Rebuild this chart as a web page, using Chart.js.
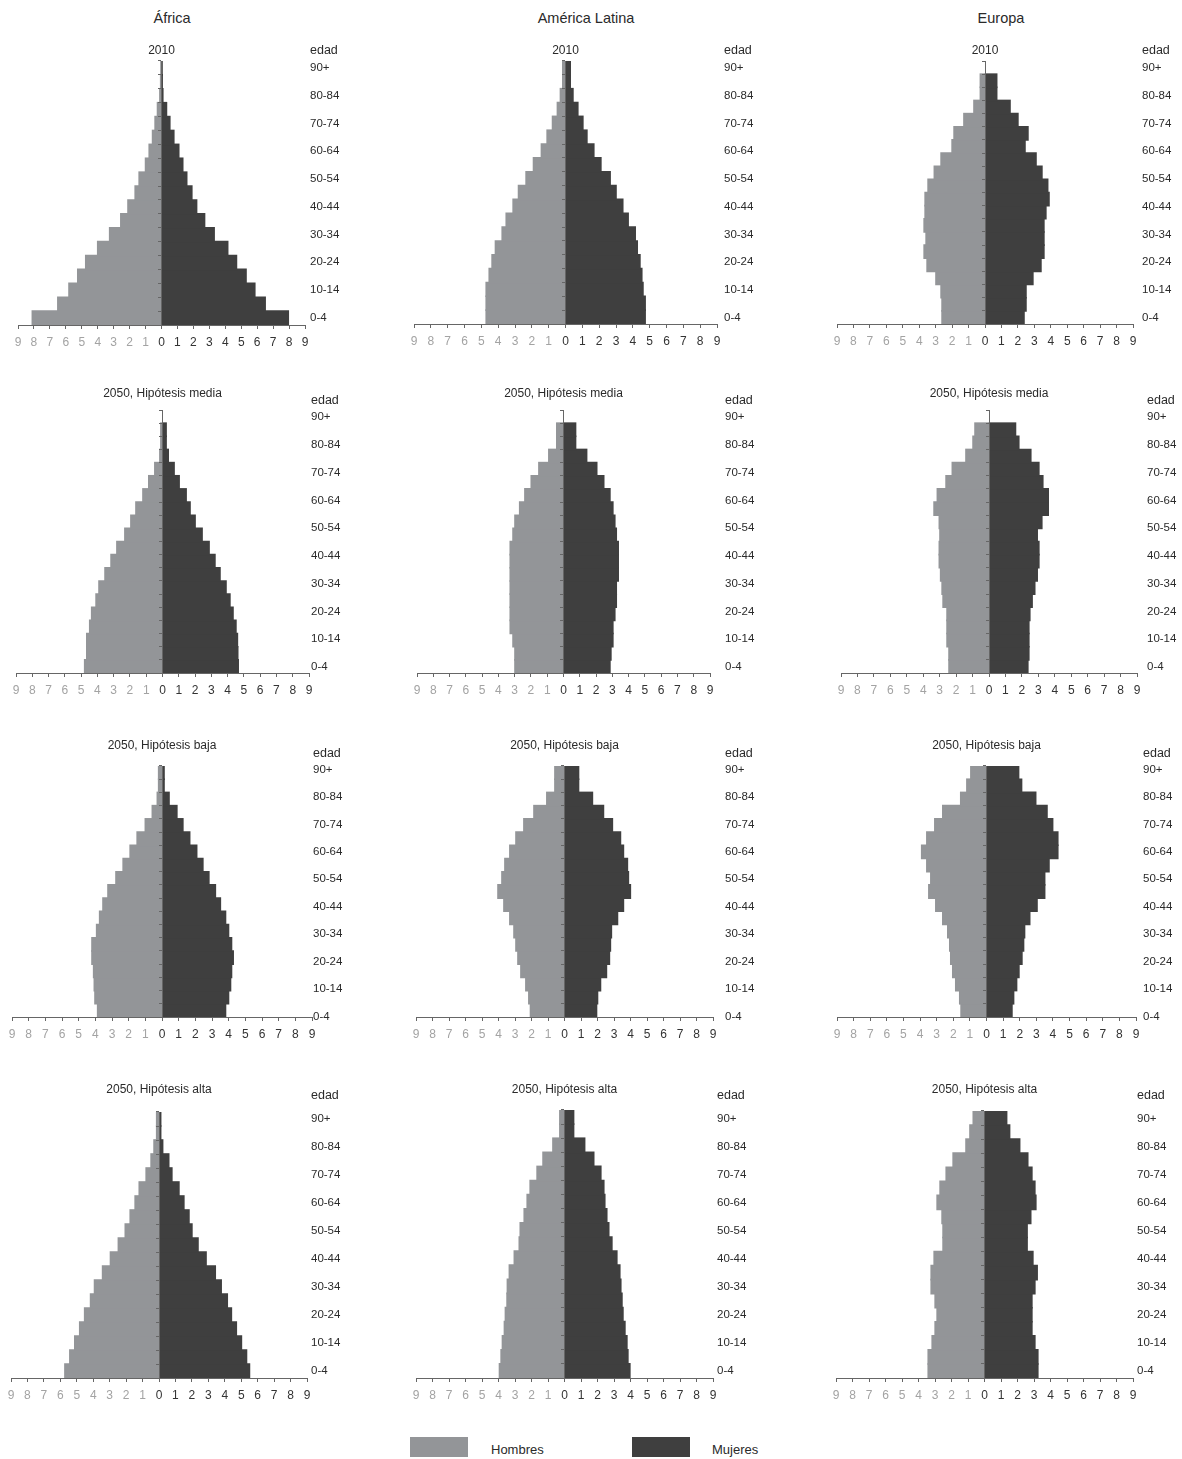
<!DOCTYPE html>
<html><head><meta charset="utf-8">
<script src="https://cdn.jsdelivr.net/npm/chart.js@4.4.1/dist/chart.umd.min.js"></script>
<style>
html,body{margin:0;padding:0;background:#fff;}
body{width:1182px;height:1459px;position:relative;overflow:hidden;font-family:'Liberation Sans',Arial,sans-serif;color:#2a2a2a;}
canvas{position:absolute;}
.t{position:absolute;white-space:nowrap;line-height:1;}
.c{transform:translate(-50%,-50%);}
.l{transform:translate(0,-50%);}
.head{font-size:14.5px;color:#2a2a2a;}
.sub{font-size:12px;color:#2a2a2a;}
.edad{font-size:12.5px;color:#2a2a2a;}
.leg{position:absolute;width:58px;height:20px;}
.legt{font-size:13px;color:#2a2a2a;}
</style>
</head><body>
<script>
// ---------- DATA ----------
const AGE_GROUPS = ['0-4','5-9','10-14','15-19','20-24','25-29','30-34','35-39','40-44','45-49','50-54','55-59','60-64','65-69','70-74','75-79','80-84','85-89','90+'];
const AGE_TICK_LABELS = ['0-4','10-14','20-24','30-34','40-44','50-54','60-64','70-74','80-84','90+'];
const X_TICK_VALUES = [-9,-8,-7,-6,-5,-4,-3,-2,-1,0,1,2,3,4,5,6,7,8,9];
const REGIONS = ['África','América Latina','Europa'];
const SCENARIOS = ['2010','2050, Hipótesis media','2050, Hipótesis baja','2050, Hipótesis alta'];
const SERIES_NAMES = ['Hombres','Mujeres'];

// percentages of population, age groups from 0-4 to 90+
const AFR_2010_H = [8.1,6.5,5.8,5.25,4.75,4.0,3.25,2.55,2.1,1.65,1.4,1.0,0.77,0.56,0.4,0.25,0.1,0.05,0.02];
const AFR_2010_M = [7.95,6.5,5.85,5.3,4.7,4.15,3.3,2.7,2.2,1.9,1.58,1.33,1.08,0.77,0.52,0.31,0.08,0.04,0.02];
const LAT_2010_H = [4.71,4.71,4.71,4.53,4.36,4.16,3.76,3.52,3.11,2.79,2.34,1.9,1.43,1.09,0.77,0.48,0.3,0.16,0.16];
const LAT_2010_M = [4.73,4.73,4.6,4.53,4.42,4.26,4.14,3.72,3.4,3.0,2.65,2.1,1.68,1.27,1.03,0.73,0.44,0.28,0.28];
const EUR_2010_H = [2.61,2.61,2.67,2.98,3.52,3.7,3.58,3.7,3.64,3.64,3.46,3.08,2.67,2.0,1.88,1.28,0.67,0.28,0.28];
const EUR_2010_M = [2.37,2.49,2.49,2.91,3.4,3.58,3.58,3.58,3.7,3.89,3.81,3.46,3.1,2.43,2.61,2.0,1.52,0.71,0.71];

const AFR_MED_H = [4.78,4.65,4.65,4.47,4.35,4.08,3.9,3.53,3.16,2.8,2.31,1.94,1.63,1.2,0.84,0.47,0.16,0.1,0.1];
const AFR_MED_M = [4.65,4.62,4.6,4.51,4.33,4.14,3.9,3.53,3.22,2.86,2.43,2.0,1.69,1.45,1.02,0.71,0.35,0.22,0.22];
const LAT_MED_H = [2.98,2.98,3.1,3.27,3.27,3.27,3.27,3.27,3.27,3.27,3.1,2.98,2.69,2.37,1.98,1.51,0.9,0.41,0.41];
const LAT_MED_M = [2.85,2.91,3.03,3.03,3.15,3.24,3.24,3.36,3.36,3.36,3.24,3.15,3.03,2.85,2.47,2.04,1.42,0.74,0.74];
const EUR_MED_H = [2.43,2.43,2.55,2.55,2.55,2.79,2.85,2.94,3.02,3.02,2.98,3.02,3.34,3.14,2.61,2.23,1.4,0.97,0.85];
const EUR_MED_M = [2.36,2.42,2.42,2.42,2.48,2.62,2.78,2.93,3.03,3.03,2.93,3.21,3.6,3.6,3.27,3.03,2.54,1.81,1.61];

const AFR_BAJ_H = [3.86,4.02,4.06,4.1,4.2,4.2,3.92,3.74,3.54,3.24,2.76,2.33,1.91,1.49,1.0,0.58,0.28,0.2,0.2];
const AFR_BAJ_M = [3.81,3.99,4.11,4.17,4.27,4.17,3.99,3.81,3.5,3.2,2.81,2.45,2.08,1.66,1.25,0.89,0.42,0.12,0.12];
const LAT_BAJ_H = [2.06,2.16,2.34,2.64,2.82,2.94,3.06,3.31,3.67,4.03,3.79,3.61,3.31,2.94,2.46,1.85,1.07,0.58,0.58];
const LAT_BAJ_M = [1.94,2.0,2.18,2.54,2.72,2.78,2.84,3.21,3.57,3.99,3.87,3.81,3.57,3.39,2.9,2.36,1.69,0.85,0.85];
const EUR_BAJ_H = [1.53,1.61,1.85,2.03,2.15,2.21,2.33,2.63,3.05,3.47,3.35,3.59,3.9,3.59,3.11,2.63,1.55,1.18,0.94];
const EUR_BAJ_M = [1.53,1.63,1.81,1.95,2.13,2.23,2.29,2.6,3.04,3.5,3.5,3.76,4.29,4.29,3.98,3.64,2.96,2.11,1.93];

const AFR_ALT_H = [5.72,5.42,5.12,4.82,4.52,4.16,3.92,3.43,2.95,2.47,2.05,1.75,1.45,1.2,0.78,0.48,0.3,0.14,0.14];
const AFR_ALT_M = [5.5,5.32,5.01,4.7,4.4,4.15,3.78,3.42,2.86,2.37,2.0,1.82,1.51,1.21,0.78,0.59,0.22,0.1,0.1];
const LAT_ALT_H = [3.94,3.84,3.76,3.64,3.58,3.48,3.46,3.34,3.04,2.74,2.68,2.44,2.26,2.08,1.66,1.3,0.7,0.28,0.28];
const LAT_ALT_M = [3.96,3.84,3.78,3.66,3.54,3.48,3.41,3.35,3.17,2.87,2.68,2.56,2.44,2.38,2.2,1.77,1.22,0.55,0.55];
const EUR_ALT_H = [3.41,3.41,3.17,2.99,2.87,2.99,3.23,3.23,3.05,2.51,2.51,2.57,2.87,2.69,2.32,1.9,1.12,0.88,0.68];
const EUR_ALT_M = [3.23,3.23,3.05,2.87,2.87,2.87,3.05,3.19,2.93,2.58,2.58,2.8,3.11,3.05,2.87,2.62,2.13,1.52,1.34];

const PANEL_DATA = [
  [[AFR_2010_H,AFR_2010_M],[LAT_2010_H,LAT_2010_M],[EUR_2010_H,EUR_2010_M]],
  [[AFR_MED_H,AFR_MED_M],[LAT_MED_H,LAT_MED_M],[EUR_MED_H,EUR_MED_M]],
  [[AFR_BAJ_H,AFR_BAJ_M],[LAT_BAJ_H,LAT_BAJ_M],[EUR_BAJ_H,EUR_BAJ_M]],
  [[AFR_ALT_H,AFR_ALT_M],[LAT_ALT_H,LAT_ALT_M],[EUR_ALT_H,EUR_ALT_M]]
];

// ---------- LAYOUT (pixels) ----------
const PANEL_BOX = [
  [{L:18,R:305,T:61,B:325,slots:19,labX:310},{L:414,R:717,T:61,B:324,slots:19,labX:724},{L:837,R:1133,T:61,B:324,slots:20,labX:1142}],
  [{L:16,R:309,T:410,B:673,slots:20,labX:311},{L:417,R:710,T:410,B:673,slots:20,labX:725},{L:841,R:1137,T:410,B:673,slots:20,labX:1147}],
  [{L:12,R:312,T:766,B:1017,slots:19,labX:313},{L:416,R:713,T:766,B:1017,slots:19,labX:725},{L:837,R:1136,T:766,B:1017,slots:19,labX:1143}],
  [{L:11,R:307,T:1112,B:1378,slots:19,labX:311},{L:416,R:713,T:1110,B:1378,slots:19,labX:717},{L:836,R:1133,T:1111,B:1378,slots:19,labX:1137}]
];
const ROW_TEXT = [
  {sub:50, edad:50, lab0:317.5, labTop:68},
  {sub:393, edad:400, lab0:667, labTop:417},
  {sub:745, edad:753, lab0:1016.5, labTop:769.5},
  {sub:1089, edad:1095, lab0:1371, labTop:1119}
];
const HEAD_X = [172, 586, 1001];
const HEAD_Y = 18;
const MALE_COLOR = '#939598';
const FEMALE_COLOR = '#3f3f3f';
const AXIS_COLOR = '#666666';

Chart.defaults.font.family = "'Liberation Sans', Arial, sans-serif";
Chart.defaults.color = '#2a2a2a';

function addText(txt, x, y, cls) {
  const d = document.createElement('div');
  d.className = 't ' + cls;
  d.style.left = x + 'px';
  d.style.top = y + 'px';
  d.textContent = txt;
  document.body.appendChild(d);
}

REGIONS.forEach((r, i) => addText(r, HEAD_X[i], HEAD_Y, 'head c'));

const PADL = 16, PADT = 26, LABW = 70, XH = 32;

function makePanel(row, col) {
  const box = PANEL_BOX[row][col];
  const rt = ROW_TEXT[row];
  const [men, women] = PANEL_DATA[row][col];
  const w = PADL + (box.R - box.L) + LABW;
  const h = PADT + (box.B - box.T) + XH;
  const cv = document.createElement('canvas');
  cv.style.left = (box.L - PADL) + 'px';
  cv.style.top = (box.T - PADT) + 'px';
  cv.style.width = w + 'px';
  cv.style.height = h + 'px';
  cv.width = w; cv.height = h;
  document.body.appendChild(cv);

  const labels = box.slots === 20 ? AGE_GROUPS.concat(['']) : AGE_GROUPS.slice();
  // label axis range so that tick 0 sits at lab0 and tick 18 at labTop
  const s = (rt.lab0 - rt.labTop) / 18;
  const labMin = -(box.B - rt.lab0) / s;
  const labMax = 18 + (rt.labTop - box.T) / s;

  new Chart(cv, {
    type: 'bar',
    data: {
      labels: labels,
      datasets: [
        {label: SERIES_NAMES[0], data: men.map(v => -v), backgroundColor: MALE_COLOR, borderWidth: 0, inflateAmount: 0.8, yAxisID: 'y', barPercentage: 1, categoryPercentage: 1},
        {label: SERIES_NAMES[1], data: women.slice(), backgroundColor: FEMALE_COLOR, borderWidth: 0, inflateAmount: 0.8, yAxisID: 'y', barPercentage: 1, categoryPercentage: 1}
      ]
    },
    options: {
      indexAxis: 'y',
      responsive: false,
      animation: false,
      events: [],
      layout: {padding: {left: PADL, top: PADT, right: 0, bottom: 0}},
      plugins: {legend: {display: false}, tooltip: {enabled: false}, title: {display: false}},
      scales: {
        x: {
          type: 'linear', position: 'bottom', stacked: true,
          min: -9, max: 9,
          afterFit: (sc) => { sc.height = XH; },
          afterBuildTicks: (sc) => { sc.ticks = X_TICK_VALUES.map(v => ({value: v})); },
          ticks: {
            autoSkip: false, maxRotation: 0, padding: 6,
            font: {size: 12},
            callback: (v) => String(Math.abs(v)),
            color: (ctx) => (ctx.tick && ctx.tick.value < 0) ? '#a3a3a3' : '#333333'
          },
          grid: {display: true, drawOnChartArea: false, drawTicks: true, tickLength: 4, color: AXIS_COLOR, lineWidth: 1, z: 1},
          border: {display: true, color: AXIS_COLOR, width: 1, z: 1}
        },
        y: {
          type: 'category', position: 'left', stacked: true, reverse: true, display: false,
          offset: true
        },
        yc: {
          type: 'category', position: {x: 0}, reverse: true, offset: true,
          ticks: {display: false, padding: 0},
          grid: {display: true, offset: true, drawOnChartArea: false, drawTicks: true, tickLength: 3, color: AXIS_COLOR, lineWidth: 1, z: 1},
          border: {display: true, color: AXIS_COLOR, width: 1, z: 1}
        },
        yLab: {
          type: 'linear', position: 'right', min: labMin, max: labMax, offset: false,
          afterFit: (sc) => { sc.width = LABW; },
          afterBuildTicks: (sc) => { sc.ticks = AGE_TICK_LABELS.map((t, i) => ({value: i * 2})); },
          ticks: {
            autoSkip: false, padding: box.labX - box.R, crossAlign: 'near',
            font: {size: 11.5}, color: '#2a2a2a',
            callback: (v) => AGE_TICK_LABELS[Math.round(v / 2)]
          },
          grid: {display: false, drawTicks: false, offset: false},
          border: {display: false}
        }
      }
    }
  });

  addText(SCENARIOS[row], (box.L + box.R) / 2, rt.sub, 'sub c');
  addText('edad', box.labX, rt.edad, 'edad l');
}

for (let r = 0; r < 4; r++) for (let c = 0; c < 3; c++) makePanel(r, c);

// legend
function legendItem(color, bx, label, tx, y) {
  const b = document.createElement('div');
  b.className = 'leg';
  b.style.left = bx + 'px'; b.style.top = (y - 10) + 'px'; b.style.background = color;
  document.body.appendChild(b);
  addText(label, tx, y + 2, 'legt l');
}
legendItem(MALE_COLOR, 410, SERIES_NAMES[0], 491, 1447);
legendItem(FEMALE_COLOR, 632, SERIES_NAMES[1], 712, 1447);
</script>
</body></html>
